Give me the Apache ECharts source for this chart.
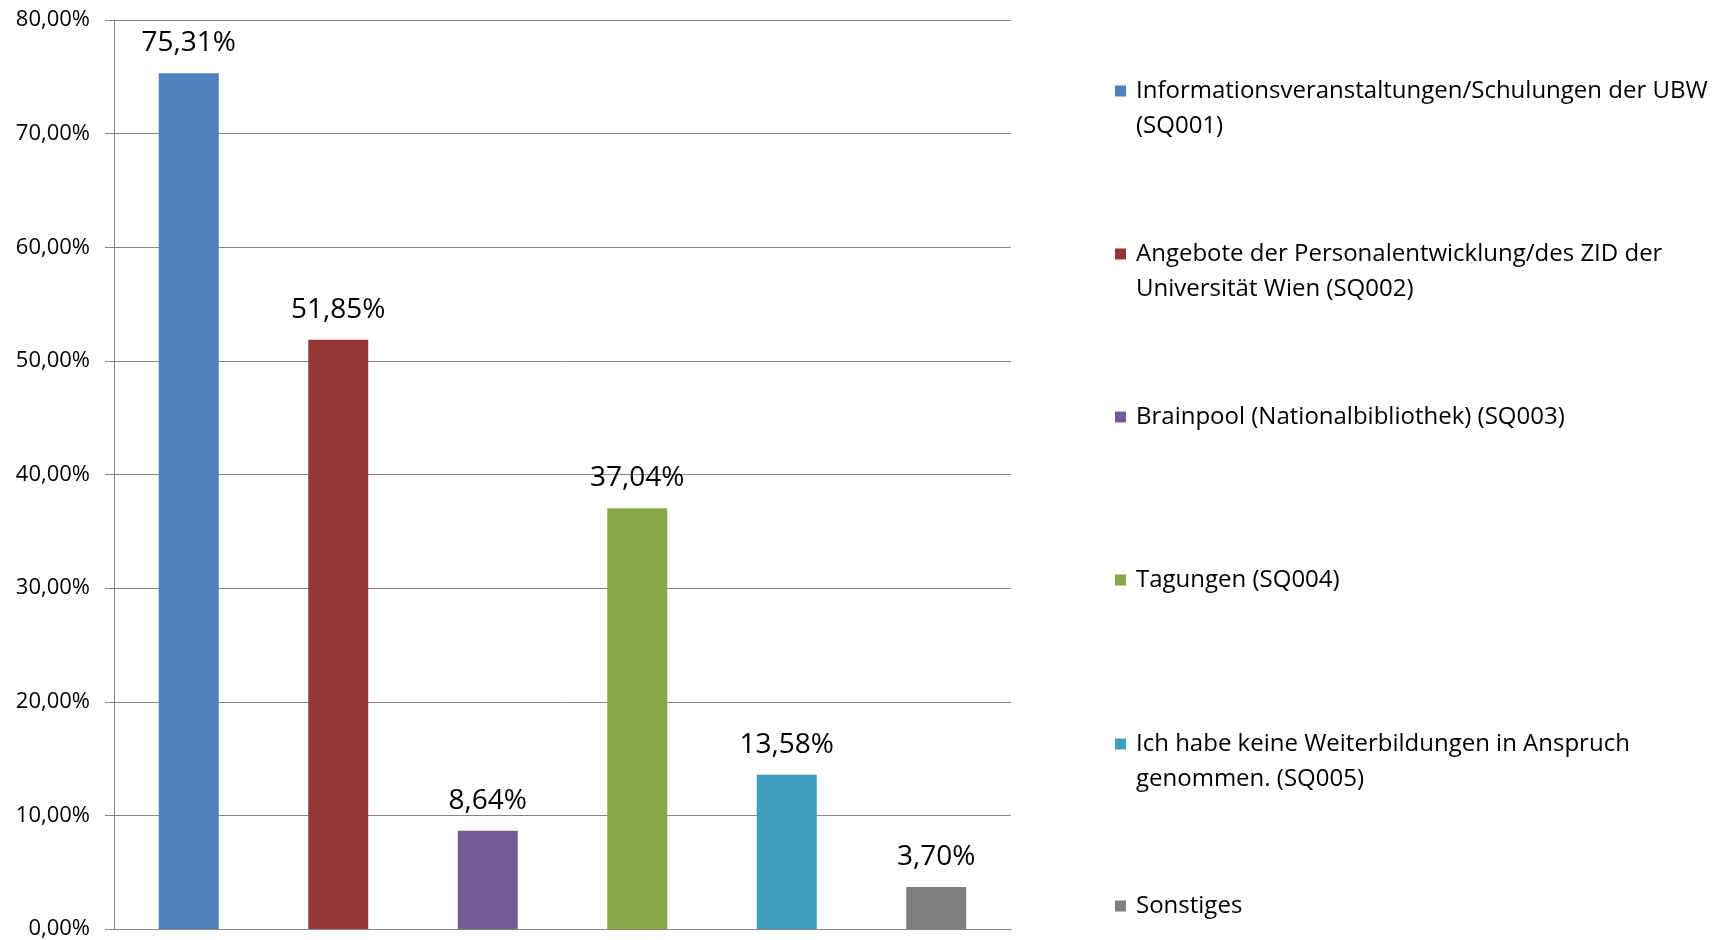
<!DOCTYPE html>
<html>
<head>
<meta charset="utf-8">
<script src="https://cdn.jsdelivr.net/npm/echarts@6/dist/echarts.min.js"></script>
<style>
  html, body { margin: 0; padding: 0; background: #fff; }
  #main { width: 1731px; height: 940px; }
</style>
</head>
<body>
<div id="main"></div>
<script>
var categories = [
  'Informationsveranstaltungen/Schulungen der UBW\n(SQ001)',
  'Angebote der Personalentwicklung/des ZID der\nUniversität Wien (SQ002)',
  'Brainpool (Nationalbibliothek) (SQ003)',
  'Tagungen (SQ004)',
  'Ich habe keine Weiterbildungen in Anspruch\ngenommen. (SQ005)',
  'Sonstiges'
];
var values = [75.31, 51.85, 8.64, 37.04, 13.58, 3.70];
var colors = ['#4f81bd', '#953735', '#765a96', '#87a846', '#3d9fbc', '#7f7f7f'];
var yTicks = { min: 0, max: 80, interval: 10 };

var font = '"Open Sans", "Noto Sans", sans-serif';
var myChart = echarts.init(document.getElementById('main'));

function pct(v) {
  return v.toFixed(2).replace('.', ',') + '%';
}

// one legend block per entry so the first text line sits next to the marker
var legendTop = [88, 251, 414, 577, 741, 903];
var legends = categories.map(function (name, i) {
  var twoLines = name.indexOf('\n') >= 0;
  return {
    data: [name],
    left: 1115,
    top: legendTop[i] - 9,
    padding: 0,
    icon: 'rect',
    itemWidth: 11,
    itemHeight: 11,
    selectedMode: false,
    formatter: function (n) {
      return n.split('\n').map(function (s) { return '{t|' + s + '}'; }).join('\n');
    },
    textStyle: {
      padding: [twoLines ? 35 : 0, 0, 0, 5],
      rich: {
        t: { fontFamily: font, fontSize: 24, lineHeight: 35, color: '#000' }
      }
    }
  };
});

var series = categories.map(function (name, i) {
  var d = values.map(function (v, j) { return j === i ? v : null; });
  return {
    name: name,
    type: 'bar',
    stack: 'all',
    barWidth: 60,
    data: d,
    itemStyle: { color: colors[i] },
    label: {
      show: true,
      position: 'top',
      distance: 16,
      fontFamily: font,
      fontSize: 28,
      color: '#000',
      formatter: function (p) { return pct(p.value); }
    }
  };
});

var option = {
  animation: false,
  color: colors,
  legend: legends,
  grid: { left: 114, right: 720, top: 20, bottom: 10, containLabel: false },
  xAxis: {
    type: 'category',
    data: categories,
    axisLine: { lineStyle: { color: '#868686', width: 1 } },
    axisTick: { show: false },
    axisLabel: { show: false }
  },
  yAxis: {
    type: 'value',
    min: yTicks.min,
    max: yTicks.max,
    interval: yTicks.interval,
    axisLine: { show: true, lineStyle: { color: '#868686', width: 1 } },
    axisTick: { show: true, length: 9, lineStyle: { color: '#868686' } },
    splitLine: { lineStyle: { color: '#868686', width: 1 } },
    axisLabel: {
      margin: 24,
      fontFamily: font,
      fontSize: 22,
      color: '#000',
      formatter: function (v) { return pct(v); }
    }
  },
  series: series
};

myChart.setOption(option);
</script>
</body>
</html>
